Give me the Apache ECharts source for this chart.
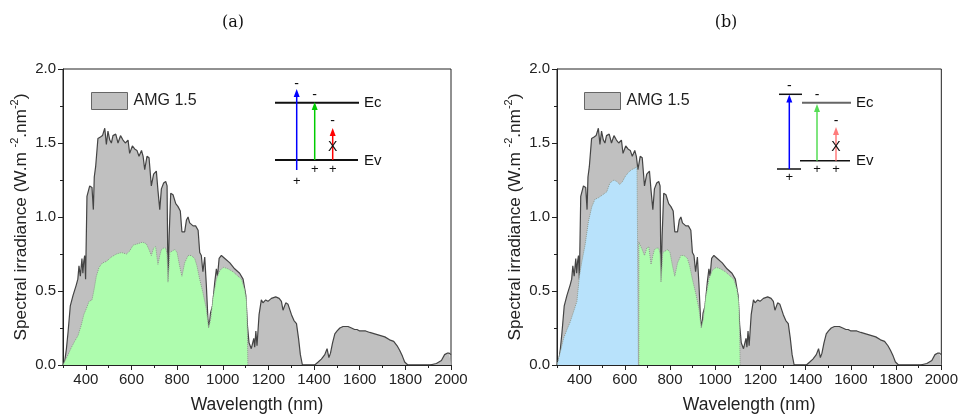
<!DOCTYPE html>
<html><head><meta charset="utf-8">
<script src="https://cdn.jsdelivr.net/npm/echarts@6/dist/echarts.min.js"></script>
<style>html,body{margin:0;padding:0;background:#fff}#c{width:961px;height:419px}</style>
</head><body><div id="c"></div>
<script>
// ---- data ----
const panelTitles = ['(a)', '(b)'];
const legendName = 'AMG 1.5';
const xMin = 300, xMax = 2000;
const yMin = 0, yMax = 2, yInterval = 0.5;

const grayWl = [300,307,315,322,332,344,358,365,370,376,383,387,391,395,399,405,417,427,433,437,443,453,464,473,483,490,497,505,512,519,531,541,552,563,573,585,592,604,614,624,633,644,651,658,668,677,687,697,709,716,724,731,741,750,756,760,765,772,782,794,804,814,821,833,841,848,855,862,870,881,892,899,906,913,921,928,935,940,946,955,965,972,977,984,994,1009,1031,1052,1074,1089,1101,1108,1115,1125,1136,1140,1145,1150,1159,1169,1176,1188,1198,1213,1232,1247,1257,1264,1276,1286,1301,1312,1323,1332,1340,1349,1403,1418,1432,1447,1457,1465,1472,1481,1491,1501,1513,1527,1549,1564,1578,1588,1600,1615,1626,1644,1666,1688,1710,1731,1749,1764,1775,1787,1797,1811,1907,1936,1958,1972,1983,1992,2000];
const grayVal = [0,0.02,0.11,0.22,0.40,0.47,0.54,0.58,0.67,0.60,0.72,0.62,0.70,0.74,0.58,1.14,1.21,1.20,1.05,1.27,1.34,1.53,1.54,1.55,1.60,1.49,1.58,1.52,1.50,1.55,1.56,1.50,1.55,1.52,1.50,1.52,1.43,1.48,1.46,1.45,1.41,1.45,1.41,1.32,1.41,1.40,1.21,1.29,1.31,1.18,1.05,1.19,1.23,1.24,1.21,0.56,0.87,1.16,1.15,1.09,1.07,1.04,0.90,0.90,0.98,1.00,0.96,0.97,0.94,0.94,0.91,0.76,0.74,0.63,0.73,0.54,0.31,0.25,0.35,0.40,0.56,0.65,0.60,0.72,0.74,0.72,0.69,0.65,0.62,0.58,0.47,0.27,0.15,0.11,0.18,0.12,0.23,0.13,0.34,0.44,0.42,0.44,0.43,0.45,0.46,0.45,0.43,0.37,0.42,0.41,0.34,0.30,0.28,0.18,0.07,0,0,0.02,0.04,0.07,0.11,0.05,0.08,0.15,0.21,0.23,0.25,0.26,0.26,0.25,0.24,0.24,0.23,0.23,0.23,0.22,0.21,0.20,0.19,0.17,0.16,0.13,0.10,0.06,0.02,0,0,0.01,0.03,0.07,0.08,0.08,0.07];

const greenAWl = [300,307,322,337,351,366,380,391,402,414,427,436,446,458,473,490,512,534,556,578,592,607,629,648,665,677,687,697,706,716,724,731,741,750,756,760,768,778,790,800,811,821,833,848,862,877,887,899,913,928,938,947,957,972,987,1004,1023,1045,1067,1082,1096,1104,1108,1110];
const greenAVal = [0,0.01,0.07,0.12,0.16,0.20,0.27,0.34,0.38,0.43,0.44,0.51,0.60,0.66,0.69,0.70,0.73,0.75,0.76,0.75,0.77,0.81,0.82,0.83,0.82,0.78,0.74,0.79,0.80,0.68,0.74,0.78,0.79,0.79,0.75,0.56,0.76,0.77,0.78,0.76,0.67,0.60,0.69,0.74,0.74,0.72,0.67,0.58,0.49,0.38,0.25,0.31,0.45,0.58,0.64,0.66,0.65,0.63,0.60,0.58,0.51,0.43,0.23,0];

const blueBWl = [300,303,315,329,344,358,373,388,399,410,424,439,454,468,483,502,520,534,552,564,578,590,600,615,630,644,654,660,660];
const blueBVal = [0,0,0.09,0.18,0.24,0.29,0.36,0.43,0.60,0.70,0.81,0.97,1.07,1.12,1.13,1.15,1.17,1.23,1.25,1.24,1.22,1.24,1.27,1.30,1.32,1.33,1.34,1.34,0];

const greenBWl = [662,662,665,677,687,697,706,716,724,731,741,750,756,760,768,778,790,800,811,821,833,848,862,877,887,899,913,928,938,947,957,972,987,1004,1023,1045,1067,1082,1096,1104,1108,1110];
const greenBVal = [0,0.83,0.82,0.78,0.74,0.79,0.80,0.68,0.74,0.78,0.79,0.79,0.75,0.56,0.76,0.77,0.78,0.76,0.67,0.60,0.69,0.74,0.74,0.72,0.67,0.58,0.49,0.38,0.25,0.31,0.45,0.58,0.64,0.66,0.65,0.63,0.60,0.58,0.51,0.43,0.23,0];

// ---- chart ----
const zip = (a, b) => a.map((w, i) => [w, b[i]]);
const FONT = '"Liberation Sans", Arial, sans-serif';
const TXT = '#222';
const grids = [
  {left: 63, right: 510, top: 69, bottom: 52},
  {left: 557, right: 18, top: 69, bottom: 52}
];

const xAxes = [], yAxes = [];
grids.forEach((g, i) => {
  xAxes.push({
    type: 'value', gridIndex: i, min: xMin, max: xMax, splitNumber: 8,
    name: 'Wavelength (nm)', nameLocation: 'middle', nameGap: 31,
    nameTextStyle: {fontFamily: FONT, fontSize: 17.5, color: TXT},
    axisLine: {show: true, lineStyle: {color: '#222', width: 1}},
    axisTick: {show: true, inside: false, length: 5, lineStyle: {color: '#222'}},
    axisLabel: {fontFamily: FONT, fontSize: 15, color: TXT, margin: 7, showMinLabel: false,
      formatter: v => (v % 200 === 0 && v > xMin) ? String(v) : ''},
    splitLine: {show: false}
  });
  xAxes.push({
    type: 'value', gridIndex: i, min: xMin, max: xMax, interval: 100, position: 'bottom',
    axisLine: {show: false}, axisLabel: {show: false}, splitLine: {show: false},
    axisTick: {show: true, length: 3, lineStyle: {color: '#222'}}
  });
  yAxes.push({
    type: 'value', gridIndex: i, min: yMin, max: yMax, interval: yInterval,
    name: '{t|Spectral irradiance (W.m }{s|-2}{t|.nm}{s|-2}{t|)}',
    nameLocation: 'middle', nameGap: 30, nameRotate: 90,
    nameTextStyle: {
      rich: {
        t: {fontFamily: FONT, fontSize: 17.2, color: TXT, lineHeight: 24},
        s: {fontFamily: FONT, fontSize: 11, color: TXT, verticalAlign: 'top'}
      }
    },
    axisLine: {show: true, lineStyle: {color: '#222', width: 1}},
    axisTick: {show: true, length: 5, lineStyle: {color: '#222'}},
    minorTick: {show: true, splitNumber: 2, length: 3, lineStyle: {color: '#222'}},
    axisLabel: {fontFamily: FONT, fontSize: 15, color: TXT, margin: 7, formatter: v => v.toFixed(1)},
    splitLine: {show: false}
  });
});

function graySeries(i) {
  return {
    name: legendName, type: 'line', xAxisIndex: i * 2, yAxisIndex: i,
    data: zip(grayWl, grayVal), showSymbol: false, symbol: 'none',
    lineStyle: {color: '#444', width: 1.2}, itemStyle: {color: '#c0c0c0'},
    areaStyle: {color: '#c0c0c0', opacity: 1}, z: 2, animation: false
  };
}
function fillSeries(i, wl, val, color, name) {
  return {
    name: name, type: 'line', xAxisIndex: i * 2, yAxisIndex: i,
    data: zip(wl, val), showSymbol: false, symbol: 'none',
    lineStyle: {color: '#8f9a8f', width: 1, type: 'dotted'},
    areaStyle: {color: color, opacity: 1}, z: 3, animation: false
  };
}

const series = [
  graySeries(0),
  fillSeries(0, greenAWl, greenAVal, '#aefcae', 'greenA'),
  graySeries(1),
  fillSeries(1, blueBWl, blueBVal, '#b8e2fb', 'blueB'),
  fillSeries(1, greenBWl, greenBVal, '#aefcae', 'greenB')
];

// inset band diagrams
function line(x1, y1, x2, y2, color, w) {
  return {type: 'line', shape: {x1, y1, x2, y2}, style: {stroke: color, lineWidth: w}, z: 10, silent: true};
}
function arrow(x, yBase, yTip, color) {
  return [
    {type: 'line', shape: {x1: x, y1: yBase, x2: x, y2: yTip + 6}, style: {stroke: color, lineWidth: 1.5}, z: 10, silent: true},
    {type: 'polygon', shape: {points: [[x, yTip], [x - 3, yTip + 8], [x + 3, yTip + 8]]}, style: {fill: color}, z: 10, silent: true}
  ];
}
function txt(x, y, s, size, color) {
  return {type: 'text', x, y, style: {text: s, fontFamily: FONT, fontSize: size || 13, fill: color || '#111', align: 'center', verticalAlign: 'middle'}, z: 11, silent: true};
}
function ltxt(x, y, s) {
  return {type: 'text', x, y, style: {text: s, fontFamily: FONT, fontSize: 15, fill: '#111', align: 'left', verticalAlign: 'middle'}, z: 11, silent: true};
}

const graphics = [
  {type: 'text', x: 233, y: 23, style: {text: panelTitles[0], fontFamily: '"DejaVu Serif", "Liberation Serif", serif', fontSize: 16, fill: '#111', align: 'center', verticalAlign: 'middle'}},
  {type: 'text', x: 726, y: 23, style: {text: panelTitles[1], fontFamily: '"DejaVu Serif", "Liberation Serif", serif', fontSize: 16, fill: '#111', align: 'center', verticalAlign: 'middle'}},
  // panel a inset
  line(275, 102.7, 359, 102.7, '#111', 2),
  line(275, 160, 358, 160, '#111', 2),
  ltxt(364, 103, 'Ec'), ltxt(364, 161, 'Ev'),
  ...arrow(296.7, 170, 89, '#0000ff'),
  ...arrow(314.7, 160, 102, '#00cc00'),
  ...arrow(332.7, 160, 128, '#ff0000'),
  txt(296.7, 84, '-', 14), txt(296.7, 181, '+', 13),
  txt(314.7, 95, '-', 14), txt(314.7, 169, '+', 13),
  txt(332.7, 121, '-', 14), txt(332.7, 147, 'X', 14), txt(332.7, 169, '+', 13),
  // panel b inset
  line(779, 94.3, 802, 94.3, '#111', 1.5),
  line(802, 102.7, 851, 102.7, '#666', 2),
  line(800, 160.7, 850, 160.7, '#111', 1.5),
  line(777, 169, 801, 169, '#111', 1.5),
  ltxt(856, 103, 'Ec'), ltxt(856, 161, 'Ev'),
  ...arrow(789.3, 169, 94.5, '#0000ff'),
  ...arrow(817, 160.7, 104, '#55dd55'),
  ...arrow(836, 160.7, 127, '#ff7b7b'),
  txt(789.3, 86, '-', 14), txt(789.3, 177, '+', 13),
  txt(817, 95, '-', 14), txt(817, 169, '+', 13),
  txt(836, 121, '-', 14), txt(836, 147, 'X', 14), txt(836, 169, '+', 13)
];

const legendCommon = {
  data: [legendName], icon: 'rect', itemWidth: 36, itemHeight: 17, itemGap: 0,
  textStyle: {fontFamily: FONT, fontSize: 16, color: TXT, padding: [0, 0, 0, 1]},
  itemStyle: {color: '#c0c0c0', borderColor: '#666', borderWidth: 1},
  lineStyle: {width: 0}, selectedMode: false, padding: 0
};

const chart = echarts.init(document.getElementById('c'), null, {renderer: 'canvas'});
chart.setOption({
  animation: false,
  backgroundColor: '#fff',
  grid: grids.map(g => Object.assign({show: true, borderColor: '#222', borderWidth: 1, backgroundColor: 'transparent'}, g)),
  xAxis: xAxes,
  yAxis: yAxes,
  legend: [
    Object.assign({left: 91, top: 92}, legendCommon),
    Object.assign({left: 584, top: 92}, legendCommon)
  ],
  series: series,
  graphic: graphics
});
</script>
</body></html>
